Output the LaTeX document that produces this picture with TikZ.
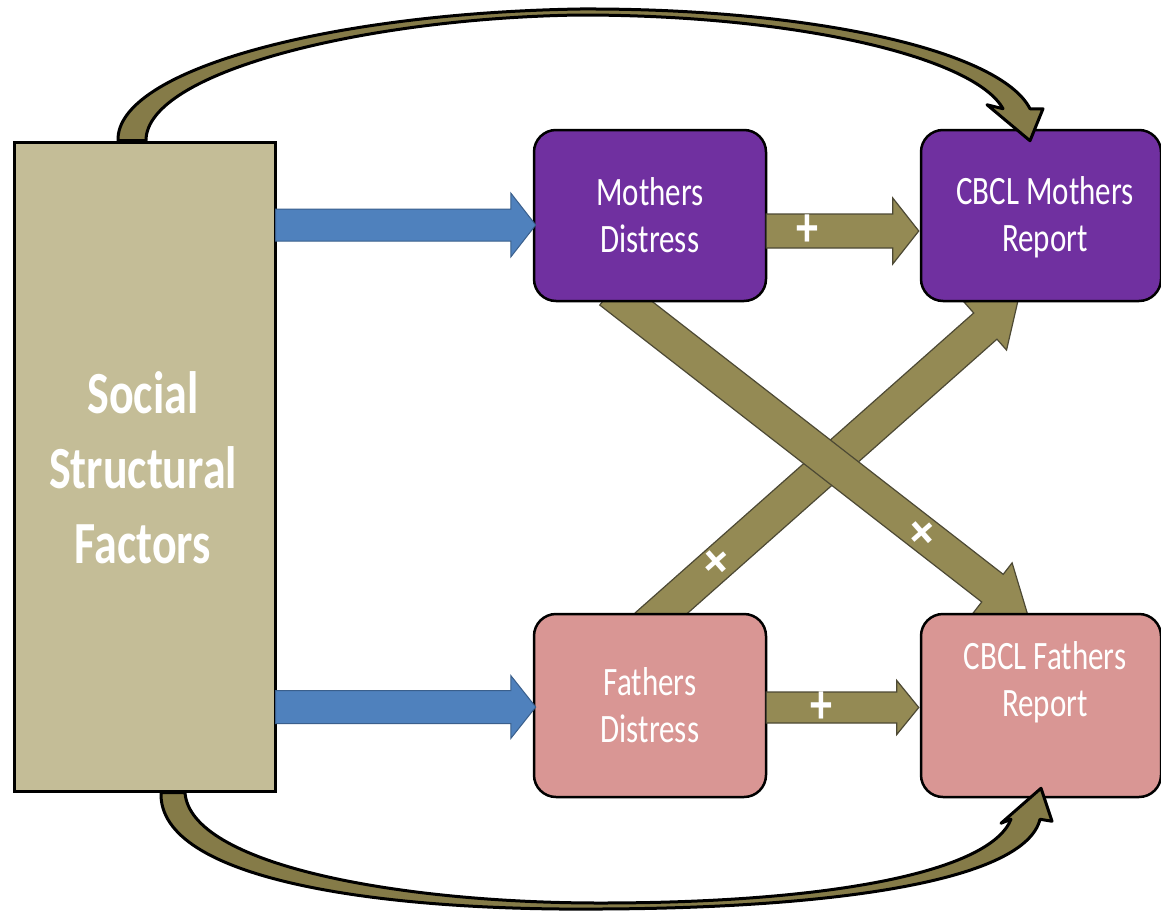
\documentclass[tikz,border=0pt]{standalone}
\usepackage{fontspec}
\setmainfont{Carlito}
\usepackage{graphicx}
\usetikzlibrary{calc}
\pgfdeclarelayer{bg}
\pgfsetlayers{bg,main}
\definecolor{tanbox}{HTML}{C4BD97}
\definecolor{olive}{HTML}{948A54}
\definecolor{oliveD}{HTML}{4D4934}
\definecolor{bandcol}{HTML}{857B48}
\definecolor{bluearr}{HTML}{4F81BD}
\definecolor{blueD}{HTML}{3A5F8C}
\definecolor{purp}{HTML}{7030A0}
\definecolor{pinkbox}{HTML}{D99694}
\newcommand{\vs}[1]{\scalebox{1}[1.3]{#1}}
% #1 name, #2 style, #3 from, #4 tip, #5 half shaft, #6 half head, #7 head length
\newcommand{\blockarr}[7]{%
  \coordinate (#1-h) at ($(#4)!#7!(#3)$);
  \path[#2] ($(#3)!#5!90:(#4)$) -- ($(#1-h)!#5!90:(#4)$) -- ($(#1-h)!#6!90:(#4)$)
     -- (#4) -- ($(#1-h)!#6!-90:(#4)$) -- ($(#1-h)!#5!-90:(#4)$) -- ($(#3)!#5!-90:(#4)$) -- cycle;
}
\tikzset{
  bigbox/.style={draw=black, line width=3pt, fill=tanbox, minimum width=261pt, minimum height=649pt, inner sep=0pt},
  rbox/.style={draw=black, line width=2.5pt, rounded corners=22pt, minimum width=232pt, minimum height=171pt, inner sep=0pt, text=white, align=center, font=\fontsize{31}{47}\selectfont},
  boxtxt/.style={text=white, align=center, font=\fontsize{31}{47}\selectfont, inner sep=0pt},
  bigtxt/.style={text=white, align=center, font=\bfseries\fontsize{46}{75}\selectfont, inner sep=0pt},
  plustxt/.style={text=white, font=\bfseries\fontsize{44}{44}\selectfont, inner sep=0pt},
  xtxt/.style={text=white, font=\bfseries\fontsize{52}{52}\selectfont, inner sep=0pt},
  bluearrow/.style={fill=bluearr, draw=blueD, line width=1pt, line join=miter},
  olivearrow/.style={fill=olive, draw=oliveD, line width=1.2pt, line join=miter},
  bandarrow/.style={fill=bandcol, draw=black, line width=3pt, line join=round},
}
\begin{document}
\begin{tikzpicture}[x=1pt,y=-1pt]
\useasboundingbox (0,0) rectangle (1161,910);
\clip (0,0) rectangle (1161,910);

% boxes
\node[bigbox] (ssf) at (144.5,466.5) {};
\node[bigtxt] (ssft) at (143,468) {\vs{Social}\\\vs{Structural}\\\vs{Factors}};
\node[rbox, fill=purp] (md) at (650,215.5) {\vs{Mothers}\\\vs{Distress}};
\node[rbox, fill=purp, minimum width=240pt] (cm) at (1041,215.5) {};
\node[boxtxt] (cmt) at (1045,217) {\vs{CBCL Mothers}\\\vs{Report}};
\node[rbox, fill=pinkbox, minimum height=183pt] (fd) at (650,705.5) {\vs{Fathers}\\\vs{Distress}};
\node[rbox, fill=pinkbox, minimum width=240pt, minimum height=183pt] (cf) at (1041,705.5) {};
\node[boxtxt] (cft) at (1045,682) {\vs{CBCL Fathers}\\\vs{Report}};

% crossing arrows (behind boxes)
\coordinate (xa1) at ($(md.south)+(-39.5,-11)$);
\coordinate (xa2) at ($(cf.north)+(-13,3)$);
\coordinate (xb1) at ($(fd.north)+(-3,13)$);
\coordinate (xb2) at ($(cm.south)+(-22,-6)$);
\begin{pgfonlayer}{bg}
\fill[white] (0,0) rectangle (1161,910);
\blockarr{xb}{olivearrow}{xb1}{xb2}{17.5pt}{32pt}{45pt}
\blockarr{xa}{olivearrow}{xa1}{xa2}{17.5pt}{32pt}{45pt}
\end{pgfonlayer}
\node[xtxt, rotate=41.6] (pxa) at ($(xa1)!0.75!(xa2)$) {+};
\node[xtxt, rotate=41.6] (pxb) at ($(xb1)!0.19!(xb2)$) {+};

% horizontal arrows
\coordinate (b1s) at ($(ssf.east |- md.west)+(-1,9.5)$);
\coordinate (b1e) at ($(md.west)+(3,9.5)$);
\blockarr{b1}{bluearrow}{b1s}{b1e}{16pt}{32pt}{25pt}
\coordinate (b2s) at ($(ssf.east |- fd.west)+(-1,1.5)$);
\coordinate (b2e) at ($(fd.west)+(3,1.5)$);
\blockarr{b2}{bluearrow}{b2s}{b2e}{16.5pt}{31.5pt}{25pt}
\coordinate (o1s) at ($(md.east)+(-1,15.5)$);
\coordinate (o1e) at ($(cm.west)+(-1,15.5)$);
\blockarr{o1}{olivearrow}{o1s}{o1e}{17pt}{33pt}{26pt}
\coordinate (o2s) at ($(fd.east)+(-1,2)$);
\coordinate (o2e) at ($(cf.west)+(-1,2)$);
\blockarr{o2}{olivearrow}{o2s}{o2e}{15.5pt}{27pt}{22pt}
\node[plustxt] (po1) at ($(o1s)!0.27!(o1e)$) {\vs{+}};
\node[plustxt] (po2) at ($(o2s)!0.36!(o2e)$) {\vs{+}};

% curved arrows
\coordinate (ts) at ($(ssf.north)+(-12.5,0)$);
\coordinate (tt) at ($(cm.north)+(-11,12)$);
\path[bandarrow] ($(ts)+(-14,0)$) .. controls (116,70) and (330,13) .. (580,9)
  .. controls (810,8) and (1000,50) .. ($(tt)+(0,-32)$) -- ($(tt)+(13,-32)$) -- (tt)
  -- ($(tt)+(-43,-36)$) -- ($(tt)+(-27,-32)$) .. controls (975,58) and (800,15) .. (580,15)
  .. controls (365,18) and (146,72) .. ($(ts)+(14,0)$) -- cycle;
\coordinate (bs) at ($(ssf.south)+(28.5,0)$);
\coordinate (bt) at ($(cf.south)+(0,-10)$);
\path[bandarrow] ($(bs)+(-12,0)$) .. controls (158,880) and (380,911) .. (600,909)
  .. controls (840,908) and (1025,880) .. ($(bt)+(-1,31)$) -- ($(bt)+(11,33)$) -- (bt)
  -- ($(bt)+(-40,35)$) -- ($(bt)+(-30,31)$) .. controls (990,872) and (830,903) .. (600,903)
  .. controls (400,903) and (190,865) .. ($(bs)+(12,0)$) -- cycle;
\end{tikzpicture}
\end{document}
